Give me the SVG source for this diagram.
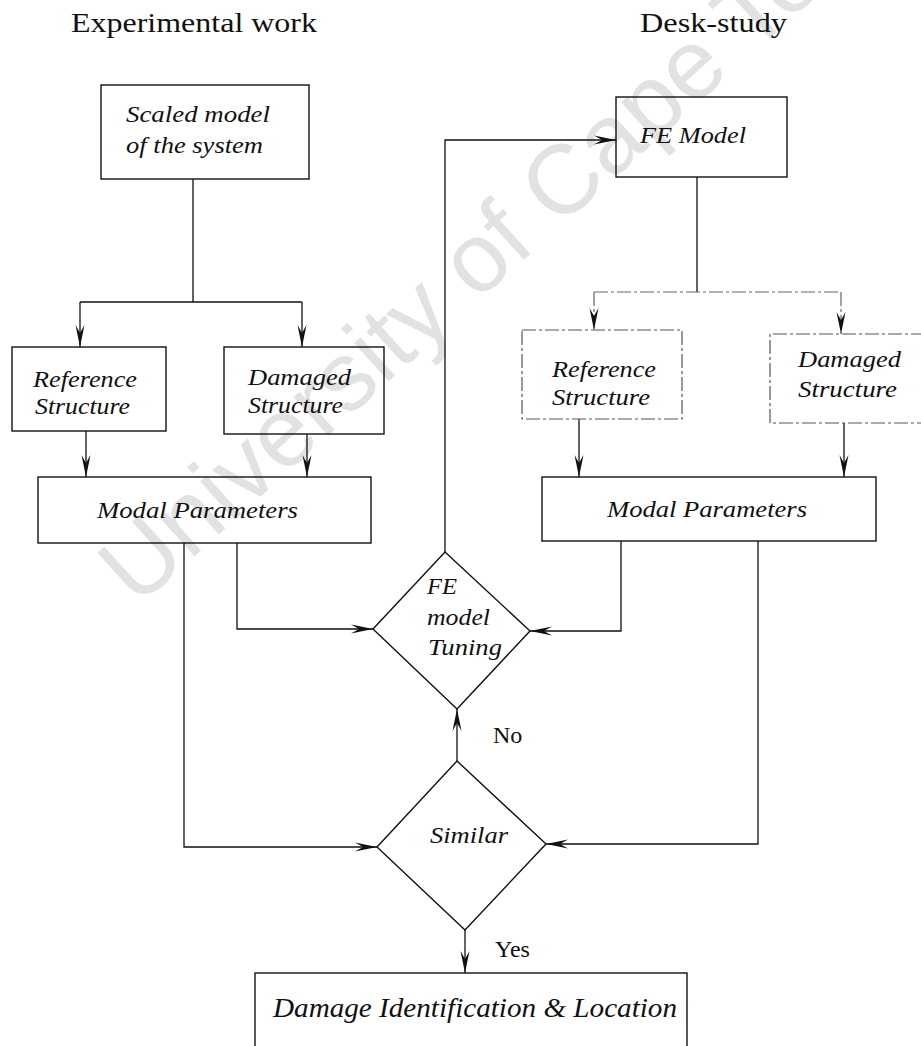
<svg xmlns="http://www.w3.org/2000/svg" width="921" height="1046" viewBox="0 0 921 1046">
<defs>
<marker id="arr" viewBox="-22 -5 22 10" refX="0" refY="0" markerWidth="22" markerHeight="10" markerUnits="userSpaceOnUse" orient="auto">
<path d="M0,0 L-22,-4.5 L-14,0 L-22,4.5 Z" fill="#111"/>
</marker>
<style>
.box{fill:none;stroke:#111;stroke-width:1.4}
.dbox{fill:none;stroke:#555;stroke-width:1.2;stroke-dasharray:14 3 3 3}
.ln{fill:none;stroke:#111;stroke-width:1.3}
.dln{fill:none;stroke:#666;stroke-width:1.2;stroke-dasharray:14 3 3 3}
text{font-family:'Liberation Serif','Times New Roman',Times,serif;fill:#111}
.lbl{font-style:italic;font-size:24px}
.ttl{font-size:27px}
.yn{font-size:24px}
.wm{font-family:'Liberation Sans',Arial,sans-serif;font-size:98px;fill:#e2e2e2}
</style>
</defs>
<rect width="921" height="1046" fill="#fff"/>
<text class="wm" transform="translate(137,608) rotate(-42)">University of Cape Town</text>

<g id="titles">
<text class="ttl" x="71" y="32" textLength="246" lengthAdjust="spacingAndGlyphs">Experimental work</text>
<text class="ttl" x="640" y="32" textLength="147" lengthAdjust="spacingAndGlyphs">Desk-study</text>
</g>

<g id="connectors">
<path class="ln" d="M193,179 V302"/>
<path class="ln" d="M80,302 H302"/>
<path class="ln" d="M80,302 V347" marker-end="url(#arr)"/>
<path class="ln" d="M302,302 V347" marker-end="url(#arr)"/>
<path class="ln" d="M86,431 V477" marker-end="url(#arr)"/>
<path class="ln" d="M307,434 V477" marker-end="url(#arr)"/>
<path class="ln" d="M237,543 V629 H373" marker-end="url(#arr)"/>
<path class="ln" d="M184,543 V847 H377" marker-end="url(#arr)"/>
<path class="ln" d="M621,541 V631 H530" marker-end="url(#arr)"/>
<path class="ln" d="M758,541 V844 H546" marker-end="url(#arr)"/>
<path class="ln" d="M445,552 V140 H616" marker-end="url(#arr)"/>
<path class="ln" d="M697,177 V292"/>
<path class="dln" d="M594,292 H841"/>
<path class="dln" d="M594,292 V330" marker-end="url(#arr)"/>
<path class="dln" d="M841,292 V334" marker-end="url(#arr)"/>
<path class="ln" d="M579,419 V477" marker-end="url(#arr)"/>
<path class="ln" d="M844,423 V477" marker-end="url(#arr)"/>
<path class="ln" d="M457,761 V709" marker-end="url(#arr)"/>
<path class="ln" d="M465,930 V973" marker-end="url(#arr)"/>
</g>

<g id="scaled-model">
<rect class="box" x="101" y="85" width="208" height="94"/>
<text class="lbl" x="126" y="122" textLength="144" lengthAdjust="spacingAndGlyphs">Scaled model</text>
<text class="lbl" x="126" y="153" textLength="137" lengthAdjust="spacingAndGlyphs">of the system</text>
</g>

<g id="exp-reference">
<rect class="box" x="12" y="347" width="154" height="84"/>
<text class="lbl" x="33" y="387" textLength="104" lengthAdjust="spacingAndGlyphs">Reference</text>
<text class="lbl" x="35" y="414" textLength="95" lengthAdjust="spacingAndGlyphs">Structure</text>
</g>

<g id="exp-damaged">
<rect class="box" x="224" y="347" width="160" height="87"/>
<text class="lbl" x="248" y="385" textLength="103" lengthAdjust="spacingAndGlyphs">Damaged</text>
<text class="lbl" x="248" y="413" textLength="95" lengthAdjust="spacingAndGlyphs">Structure</text>
</g>

<g id="exp-modal">
<rect class="box" x="38" y="477" width="333" height="66"/>
<text class="lbl" x="97" y="518" textLength="201" lengthAdjust="spacingAndGlyphs">Modal Parameters</text>
</g>

<g id="fe-model">
<rect class="box" x="616" y="97" width="171" height="80"/>
<text class="lbl" x="640" y="143" textLength="106" lengthAdjust="spacingAndGlyphs">FE Model</text>
</g>

<g id="desk-reference">
<rect class="dbox" x="522" y="330" width="160" height="89"/>
<text class="lbl" x="552" y="377" textLength="104" lengthAdjust="spacingAndGlyphs">Reference</text>
<text class="lbl" x="552" y="405" textLength="98" lengthAdjust="spacingAndGlyphs">Structure</text>
</g>

<g id="desk-damaged">
<path class="dbox" d="M925,334 H770 V423 H925"/>
<text class="lbl" x="798" y="367" textLength="103" lengthAdjust="spacingAndGlyphs">Damaged</text>
<text class="lbl" x="798" y="397" textLength="99" lengthAdjust="spacingAndGlyphs">Structure</text>
</g>

<g id="desk-modal">
<rect class="box" x="542" y="477" width="334" height="64"/>
<text class="lbl" x="607" y="517" textLength="200" lengthAdjust="spacingAndGlyphs">Modal Parameters</text>
</g>

<g id="fe-tuning">
<path class="box" d="M445,552 L530,631 L457,709 L373,629 Z"/>
<text class="lbl" x="427" y="594" textLength="30" lengthAdjust="spacingAndGlyphs">FE</text>
<text class="lbl" x="427" y="625" textLength="63" lengthAdjust="spacingAndGlyphs">model</text>
<text class="lbl" x="428" y="655" textLength="74" lengthAdjust="spacingAndGlyphs">Tuning</text>
</g>

<g id="similar">
<path class="box" d="M457,761 L546,844 L465,930 L377,847 Z"/>
<text class="lbl" x="430" y="843" textLength="78" lengthAdjust="spacingAndGlyphs">Similar</text>
</g>

<g id="labels">
<text class="yn" x="493" y="743">No</text>
<text class="yn" x="495" y="957">Yes</text>
</g>

<g id="damage-id">
<rect class="box" x="255" y="973" width="432" height="90"/>
<text class="lbl" x="273" y="1017" style="font-size:27px" textLength="404" lengthAdjust="spacingAndGlyphs">Damage Identification &amp; Location</text>
</g>
</svg>
